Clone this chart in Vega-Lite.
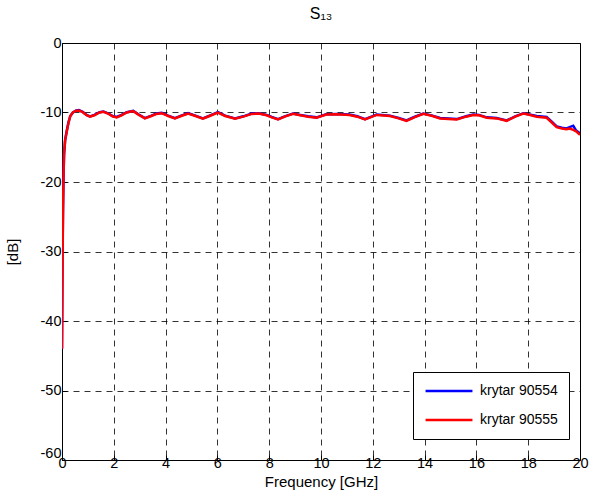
{
  "$schema": "https://vega.github.io/schema/vega-lite/v6.json",
  "autosize": {"type": "none"},
  "width": 518,
  "height": 417,
  "padding": {"left": 62, "top": 43, "right": 13, "bottom": 39},
  "background": "white",
  "title": {"text": "S₁₃", "font": "Liberation Sans", "fontSize": 16, "fontWeight": "normal", "color": "#000", "offset": 13},
  "config": {
    "view": {"stroke": "#000", "strokeWidth": 1},
    "axis": {
      "labelFont": "Liberation Sans", "labelFontSize": 14.5, "labelColor": "#000",
      "titleFont": "Liberation Sans", "titleFontSize": 15, "titleFontWeight": "normal", "titleColor": "#000",
      "domainColor": "#000", "tickColor": "#000", "tickSize": -5, "labelFlush": false, "labelOverlap": false,
      "labelExpr": "'' + datum.value",
      "grid": true, "gridColor": "#000", "gridDash": [6, 5], "gridOpacity": 0.8, "gridWidth": 1
    }
  },
  "data": {"values": [
    {"f": 0, "db": -44, "s": "krytar 90554"},
    {"f": 0.02, "db": -31, "s": "krytar 90554"},
    {"f": 0.04, "db": -23.5, "s": "krytar 90554"},
    {"f": 0.06, "db": -19, "s": "krytar 90554"},
    {"f": 0.08, "db": -16, "s": "krytar 90554"},
    {"f": 0.12, "db": -14, "s": "krytar 90554"},
    {"f": 0.18, "db": -12.7, "s": "krytar 90554"},
    {"f": 0.25, "db": -11.4, "s": "krytar 90554"},
    {"f": 0.32, "db": -10.5, "s": "krytar 90554"},
    {"f": 0.42, "db": -10.0, "s": "krytar 90554"},
    {"f": 0.55, "db": -9.7, "s": "krytar 90554"},
    {"f": 0.65, "db": -9.65, "s": "krytar 90554"},
    {"f": 0.8, "db": -9.9, "s": "krytar 90554"},
    {"f": 0.95, "db": -10.35, "s": "krytar 90554"},
    {"f": 1.08, "db": -10.55, "s": "krytar 90554"},
    {"f": 1.25, "db": -10.35, "s": "krytar 90554"},
    {"f": 1.45, "db": -9.95, "s": "krytar 90554"},
    {"f": 1.6, "db": -9.85, "s": "krytar 90554"},
    {"f": 1.8, "db": -10.15, "s": "krytar 90554"},
    {"f": 1.95, "db": -10.5, "s": "krytar 90554"},
    {"f": 2.11, "db": -10.65, "s": "krytar 90554"},
    {"f": 2.3, "db": -10.35, "s": "krytar 90554"},
    {"f": 2.5, "db": -9.95, "s": "krytar 90554"},
    {"f": 2.75, "db": -9.75, "s": "krytar 90554"},
    {"f": 2.95, "db": -10.25, "s": "krytar 90554"},
    {"f": 3.2, "db": -10.8, "s": "krytar 90554"},
    {"f": 3.45, "db": -10.45, "s": "krytar 90554"},
    {"f": 3.65, "db": -10.15, "s": "krytar 90554"},
    {"f": 3.85, "db": -10.05, "s": "krytar 90554"},
    {"f": 4.1, "db": -10.45, "s": "krytar 90554"},
    {"f": 4.36, "db": -10.8, "s": "krytar 90554"},
    {"f": 4.6, "db": -10.45, "s": "krytar 90554"},
    {"f": 4.87, "db": -10.1, "s": "krytar 90554"},
    {"f": 5.15, "db": -10.45, "s": "krytar 90554"},
    {"f": 5.44, "db": -10.85, "s": "krytar 90554"},
    {"f": 5.7, "db": -10.45, "s": "krytar 90554"},
    {"f": 6.02, "db": -9.95, "s": "krytar 90554"},
    {"f": 6.3, "db": -10.45, "s": "krytar 90554"},
    {"f": 6.68, "db": -10.85, "s": "krytar 90554"},
    {"f": 7.0, "db": -10.55, "s": "krytar 90554"},
    {"f": 7.33, "db": -10.15, "s": "krytar 90554"},
    {"f": 7.6, "db": -10.1, "s": "krytar 90554"},
    {"f": 7.9, "db": -10.35, "s": "krytar 90554"},
    {"f": 8.1, "db": -10.65, "s": "krytar 90554"},
    {"f": 8.34, "db": -10.95, "s": "krytar 90554"},
    {"f": 8.6, "db": -10.55, "s": "krytar 90554"},
    {"f": 8.92, "db": -10.15, "s": "krytar 90554"},
    {"f": 9.2, "db": -10.35, "s": "krytar 90554"},
    {"f": 9.5, "db": -10.55, "s": "krytar 90554"},
    {"f": 9.83, "db": -10.7, "s": "krytar 90554"},
    {"f": 10.2, "db": -10.25, "s": "krytar 90554"},
    {"f": 10.6, "db": -10.2, "s": "krytar 90554"},
    {"f": 11.1, "db": -10.3, "s": "krytar 90554"},
    {"f": 11.4, "db": -10.55, "s": "krytar 90554"},
    {"f": 11.7, "db": -10.95, "s": "krytar 90554"},
    {"f": 12.15, "db": -10.3, "s": "krytar 90554"},
    {"f": 12.66, "db": -10.45, "s": "krytar 90554"},
    {"f": 13.0, "db": -10.8, "s": "krytar 90554"},
    {"f": 13.3, "db": -11.15, "s": "krytar 90554"},
    {"f": 13.6, "db": -10.65, "s": "krytar 90554"},
    {"f": 13.95, "db": -10.15, "s": "krytar 90554"},
    {"f": 14.3, "db": -10.45, "s": "krytar 90554"},
    {"f": 14.6, "db": -10.8, "s": "krytar 90554"},
    {"f": 15.24, "db": -10.95, "s": "krytar 90554"},
    {"f": 15.6, "db": -10.55, "s": "krytar 90554"},
    {"f": 15.88, "db": -10.3, "s": "krytar 90554"},
    {"f": 16.1, "db": -10.35, "s": "krytar 90554"},
    {"f": 16.4, "db": -10.7, "s": "krytar 90554"},
    {"f": 16.78, "db": -10.8, "s": "krytar 90554"},
    {"f": 17.17, "db": -11.15, "s": "krytar 90554"},
    {"f": 17.5, "db": -10.55, "s": "krytar 90554"},
    {"f": 17.81, "db": -10.1, "s": "krytar 90554"},
    {"f": 18.0, "db": -10.25, "s": "krytar 90554"},
    {"f": 18.33, "db": -10.5, "s": "krytar 90554"},
    {"f": 18.71, "db": -10.65, "s": "krytar 90554"},
    {"f": 18.9, "db": -11.3, "s": "krytar 90554"},
    {"f": 19.1, "db": -12.0, "s": "krytar 90554"},
    {"f": 19.3, "db": -12.2, "s": "krytar 90554"},
    {"f": 19.48, "db": -12.3, "s": "krytar 90554"},
    {"f": 19.6, "db": -12.1, "s": "krytar 90554"},
    {"f": 19.74, "db": -11.9, "s": "krytar 90554"},
    {"f": 19.85, "db": -12.6, "s": "krytar 90554"},
    {"f": 20.0, "db": -13.0, "s": "krytar 90554"},

    {"f": 0, "db": -44, "s": "krytar 90555"},
    {"f": 0.02, "db": -32, "s": "krytar 90555"},
    {"f": 0.04, "db": -24, "s": "krytar 90555"},
    {"f": 0.06, "db": -19, "s": "krytar 90555"},
    {"f": 0.08, "db": -16, "s": "krytar 90555"},
    {"f": 0.12, "db": -14, "s": "krytar 90555"},
    {"f": 0.18, "db": -12.8, "s": "krytar 90555"},
    {"f": 0.25, "db": -11.5, "s": "krytar 90555"},
    {"f": 0.32, "db": -10.5, "s": "krytar 90555"},
    {"f": 0.42, "db": -10.0, "s": "krytar 90555"},
    {"f": 0.55, "db": -9.75, "s": "krytar 90555"},
    {"f": 0.65, "db": -9.7, "s": "krytar 90555"},
    {"f": 0.8, "db": -9.95, "s": "krytar 90555"},
    {"f": 0.95, "db": -10.4, "s": "krytar 90555"},
    {"f": 1.08, "db": -10.6, "s": "krytar 90555"},
    {"f": 1.25, "db": -10.4, "s": "krytar 90555"},
    {"f": 1.45, "db": -10.0, "s": "krytar 90555"},
    {"f": 1.6, "db": -9.9, "s": "krytar 90555"},
    {"f": 1.8, "db": -10.2, "s": "krytar 90555"},
    {"f": 1.95, "db": -10.55, "s": "krytar 90555"},
    {"f": 2.11, "db": -10.7, "s": "krytar 90555"},
    {"f": 2.3, "db": -10.4, "s": "krytar 90555"},
    {"f": 2.5, "db": -10.0, "s": "krytar 90555"},
    {"f": 2.75, "db": -9.8, "s": "krytar 90555"},
    {"f": 2.95, "db": -10.3, "s": "krytar 90555"},
    {"f": 3.2, "db": -10.85, "s": "krytar 90555"},
    {"f": 3.45, "db": -10.5, "s": "krytar 90555"},
    {"f": 3.65, "db": -10.2, "s": "krytar 90555"},
    {"f": 3.85, "db": -10.1, "s": "krytar 90555"},
    {"f": 4.1, "db": -10.5, "s": "krytar 90555"},
    {"f": 4.36, "db": -10.85, "s": "krytar 90555"},
    {"f": 4.6, "db": -10.5, "s": "krytar 90555"},
    {"f": 4.87, "db": -10.15, "s": "krytar 90555"},
    {"f": 5.15, "db": -10.5, "s": "krytar 90555"},
    {"f": 5.44, "db": -10.9, "s": "krytar 90555"},
    {"f": 5.7, "db": -10.5, "s": "krytar 90555"},
    {"f": 6.02, "db": -10.0, "s": "krytar 90555"},
    {"f": 6.3, "db": -10.5, "s": "krytar 90555"},
    {"f": 6.68, "db": -10.9, "s": "krytar 90555"},
    {"f": 7.0, "db": -10.6, "s": "krytar 90555"},
    {"f": 7.33, "db": -10.2, "s": "krytar 90555"},
    {"f": 7.6, "db": -10.15, "s": "krytar 90555"},
    {"f": 7.9, "db": -10.4, "s": "krytar 90555"},
    {"f": 8.1, "db": -10.7, "s": "krytar 90555"},
    {"f": 8.34, "db": -11.0, "s": "krytar 90555"},
    {"f": 8.6, "db": -10.6, "s": "krytar 90555"},
    {"f": 8.92, "db": -10.2, "s": "krytar 90555"},
    {"f": 9.2, "db": -10.4, "s": "krytar 90555"},
    {"f": 9.5, "db": -10.6, "s": "krytar 90555"},
    {"f": 9.83, "db": -10.75, "s": "krytar 90555"},
    {"f": 10.2, "db": -10.3, "s": "krytar 90555"},
    {"f": 10.6, "db": -10.25, "s": "krytar 90555"},
    {"f": 11.1, "db": -10.35, "s": "krytar 90555"},
    {"f": 11.4, "db": -10.6, "s": "krytar 90555"},
    {"f": 11.7, "db": -11.0, "s": "krytar 90555"},
    {"f": 12.15, "db": -10.35, "s": "krytar 90555"},
    {"f": 12.66, "db": -10.5, "s": "krytar 90555"},
    {"f": 13.0, "db": -10.85, "s": "krytar 90555"},
    {"f": 13.3, "db": -11.2, "s": "krytar 90555"},
    {"f": 13.6, "db": -10.7, "s": "krytar 90555"},
    {"f": 13.95, "db": -10.2, "s": "krytar 90555"},
    {"f": 14.3, "db": -10.5, "s": "krytar 90555"},
    {"f": 14.6, "db": -10.85, "s": "krytar 90555"},
    {"f": 15.24, "db": -11.0, "s": "krytar 90555"},
    {"f": 15.6, "db": -10.6, "s": "krytar 90555"},
    {"f": 15.88, "db": -10.35, "s": "krytar 90555"},
    {"f": 16.1, "db": -10.4, "s": "krytar 90555"},
    {"f": 16.4, "db": -10.75, "s": "krytar 90555"},
    {"f": 16.78, "db": -10.85, "s": "krytar 90555"},
    {"f": 17.17, "db": -11.2, "s": "krytar 90555"},
    {"f": 17.5, "db": -10.6, "s": "krytar 90555"},
    {"f": 17.81, "db": -10.15, "s": "krytar 90555"},
    {"f": 18.0, "db": -10.3, "s": "krytar 90555"},
    {"f": 18.33, "db": -10.6, "s": "krytar 90555"},
    {"f": 18.71, "db": -10.75, "s": "krytar 90555"},
    {"f": 18.9, "db": -11.4, "s": "krytar 90555"},
    {"f": 19.1, "db": -12.1, "s": "krytar 90555"},
    {"f": 19.3, "db": -12.3, "s": "krytar 90555"},
    {"f": 19.48, "db": -12.4, "s": "krytar 90555"},
    {"f": 19.6, "db": -12.3, "s": "krytar 90555"},
    {"f": 19.74, "db": -12.5, "s": "krytar 90555"},
    {"f": 19.85, "db": -12.7, "s": "krytar 90555"},
    {"f": 20.0, "db": -13.2, "s": "krytar 90555"}
  ]},
  "mark": {"type": "line", "strokeWidth": 2.5, "clip": true},
  "encoding": {
    "x": {"field": "f", "type": "quantitative", "title": "Frequency [GHz]",
      "scale": {"domain": [0, 20], "nice": false, "zero": false},
      "axis": {"values": [0, 2, 4, 6, 8, 10, 12, 14, 16, 18, 20], "labelPadding": 1, "titlePadding": 5}},
    "y": {"field": "db", "type": "quantitative", "title": "[dB]",
      "scale": {"domain": [-60, 0], "nice": false, "zero": false},
      "axis": {"values": [-60, -50, -40, -30, -20, -10, 0], "labelPadding": 6, "titlePadding": 20,
        "labelBaseline": {"condition": {"test": "datum.value == -60", "value": "bottom"}, "value": "middle"}}},
    "color": {"field": "s", "type": "nominal",
      "scale": {"domain": ["krytar 90554", "krytar 90555"], "range": ["#0000ff", "#ff0000"]},
      "legend": {"title": null, "orient": "none", "legendX": 351, "legendY": 329,
        "symbolType": "stroke", "symbolSize": 2200, "symbolStrokeWidth": 2.5,
        "clipHeight": 16, "symbolLimit": 0,
        "labelFont": "Liberation Sans", "labelFontSize": 14, "labelColor": "#000",
        "fillColor": "white", "strokeColor": "#000", "padding": 11, "rowPadding": 13,
        "labelOffset": 6, "symbolOffset": 0}},
    "order": {"field": "s"}
  }
}
